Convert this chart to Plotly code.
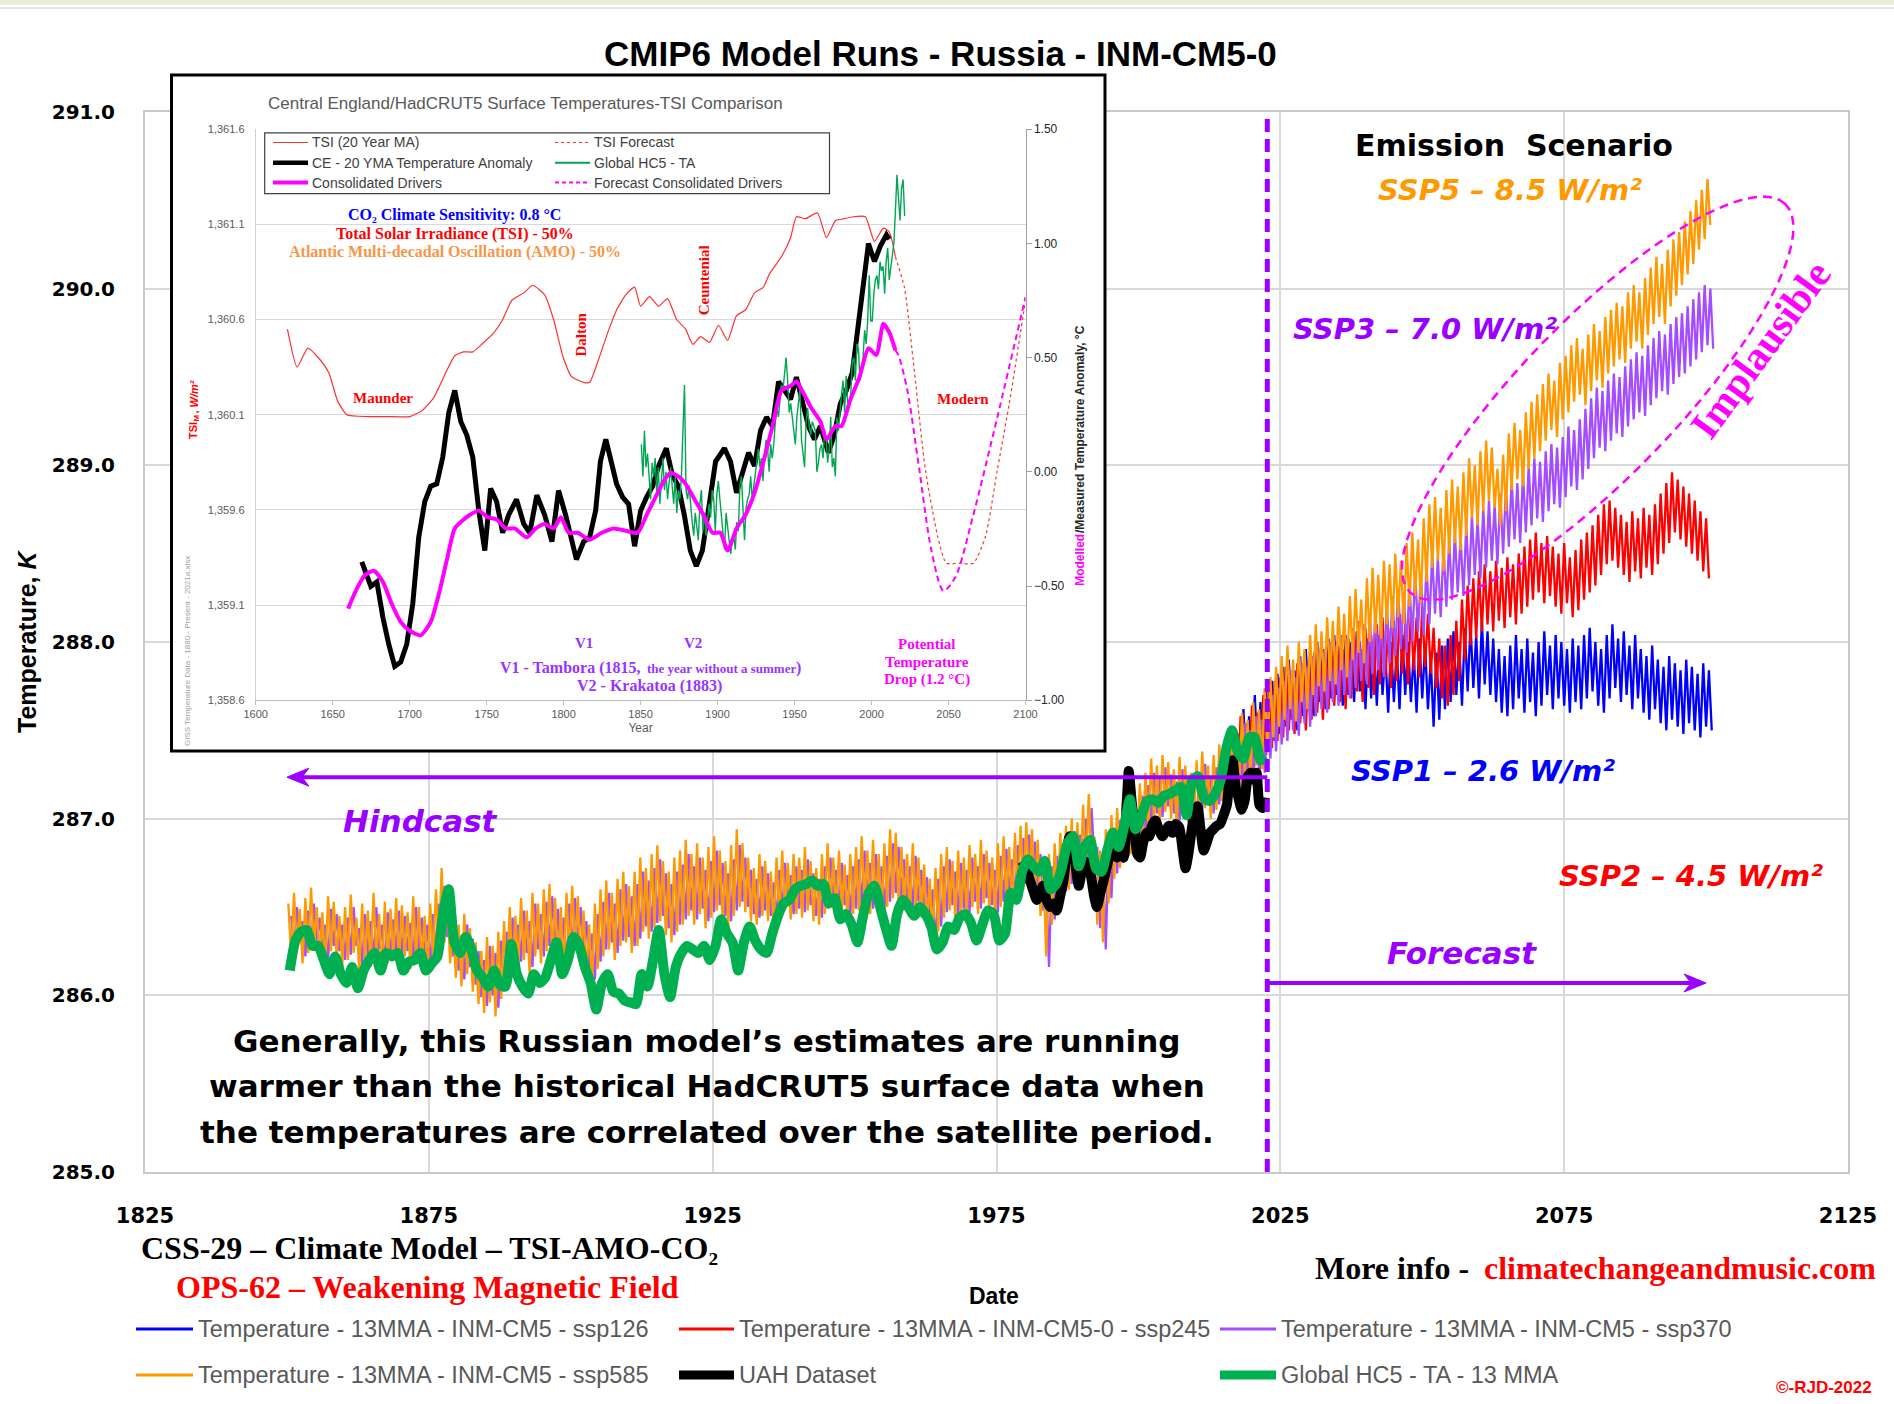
import math
import plotly.graph_objects as go

W, H = 1894, 1404
L, R, T, B = 145, 1848, 112, 1172            # main plot area (px)
IL, IR, IT, IB = 255.7, 1025.5, 129.2, 700.2  # inset plot area (px)
BL, BR, BT, BB = 171.5, 1105, 75, 751          # inset box (px)


def px(x):
    return x / W


def py(y):
    return 1 - y / H


# ------------------------------------------------------------------ data
x_ticks = [1825, 1875, 1925, 1975, 2025, 2075, 2125]
y_ticks = [285, 286, 287, 288, 289, 290, 291]

HIST_START = 1850
FUT_START = 2015

ssp585_hist_hi = [
    286.52, 286.58, 286.49, 286.55, 286.61, 286.50, 286.47, 286.56, 286.53, 286.45,
    286.50, 286.57, 286.44, 286.52, 286.48, 286.58, 286.46, 286.53, 286.49, 286.55,
    286.51, 286.47, 286.56, 286.50, 286.45, 286.52, 286.60, 286.72, 286.58, 286.44,
    286.40, 286.46, 286.38, 286.30, 286.25, 286.33, 286.28, 286.36, 286.42, 286.50,
    286.45, 286.55, 286.48, 286.58, 286.52, 286.60, 286.63, 286.55, 286.50, 286.58,
    286.62, 286.56, 286.48, 286.40, 286.52, 286.60, 286.65, 286.58, 286.66, 286.70,
    286.62, 286.70, 286.78, 286.72, 286.80, 286.85, 286.76, 286.70, 286.78, 286.82,
    286.88, 286.80, 286.86, 286.78, 286.84, 286.90, 286.82, 286.76, 286.85, 286.94,
    286.86, 286.78, 286.72, 286.80, 286.76, 286.70, 286.78, 286.82, 286.75, 286.80,
    286.78, 286.84, 286.76, 286.72, 286.80, 286.86, 286.78, 286.82, 286.74, 286.80,
    286.84, 286.90, 286.82, 286.88, 286.80, 286.86, 286.94, 286.92, 286.84, 286.80,
    286.86, 286.78, 286.74, 286.66, 286.72, 286.80, 286.84, 286.76, 286.82, 286.78,
    286.85, 286.80, 286.88, 286.82, 286.78, 286.86, 286.90, 286.84, 286.92, 286.96,
    286.98, 286.94, 286.88, 286.72, 286.80, 286.86, 286.92, 286.96, 287.00, 286.98,
    287.08, 287.14, 286.90, 286.82, 286.94, 287.02, 287.06, 287.10, 287.16, 287.12,
    287.20, 287.26, 287.34, 287.30, 287.36, 287.32, 287.28, 287.35, 287.30, 287.26,
    287.33, 287.38, 287.30, 287.36, 287.42]
ssp585_hist_lo = [
    286.22, 286.26, 286.18, 286.24, 286.28, 286.20, 286.15, 286.25, 286.22, 286.16,
    286.20, 286.24, 286.13, 286.19, 286.16, 286.22, 286.12, 286.18, 286.21, 286.17,
    286.22, 286.15, 286.20, 286.18, 286.12, 286.20, 286.26, 286.30, 286.18, 286.10,
    286.05, 286.12, 286.02, 285.95, 285.90, 285.96, 285.88, 285.98, 286.05, 286.12,
    286.15, 286.20, 286.12, 286.22, 286.18, 286.25, 286.22, 286.16, 286.12, 286.20,
    286.25, 286.20, 286.12, 286.05, 286.15, 286.22, 286.26, 286.20, 286.28, 286.30,
    286.24, 286.28, 286.36, 286.32, 286.38, 286.42, 286.34, 286.30, 286.36, 286.40,
    286.45, 286.40, 286.46, 286.38, 286.44, 286.48, 286.42, 286.38, 286.45, 286.50,
    286.47, 286.42, 286.40, 286.45, 286.42, 286.38, 286.44, 286.48, 286.43, 286.46,
    286.44, 286.48, 286.42, 286.40, 286.46, 286.50, 286.45, 286.48, 286.42, 286.46,
    286.48, 286.52, 286.46, 286.50, 286.45, 286.50, 286.55, 286.53, 286.48, 286.45,
    286.50, 286.44, 286.38, 286.30, 286.36, 286.44, 286.48, 286.42, 286.46, 286.44,
    286.50, 286.46, 286.52, 286.48, 286.44, 286.50, 286.54, 286.50, 286.56, 286.60,
    286.62, 286.58, 286.45, 286.22, 286.40, 286.50, 286.56, 286.60, 286.64, 286.62,
    286.70, 286.72, 286.40, 286.30, 286.52, 286.66, 286.72, 286.76, 286.80, 286.78,
    286.88, 286.94, 287.00, 286.98, 287.04, 287.00, 286.96, 287.02, 286.98, 286.95,
    287.02, 287.06, 287.00, 287.05, 287.10]
ssp585_fut_hi = [
    287.45, 287.52, 287.48, 287.60, 287.56, 287.66, 287.62, 287.74, 287.80, 287.86,
    287.92, 287.98, 287.90, 288.00, 287.96, 288.04, 288.10, 288.06, 288.14, 288.12,
    288.20, 288.16, 288.26, 288.30, 288.24, 288.36, 288.42, 288.38, 288.46, 288.44,
    288.50, 288.46, 288.56, 288.62, 288.58, 288.70, 288.78, 288.82, 288.76, 288.86,
    288.92, 288.88, 288.96, 289.04, 289.00, 289.08, 289.14, 289.10, 288.98, 289.06,
    289.18, 289.24, 289.20, 289.30, 289.36, 289.40, 289.46, 289.52, 289.48, 289.58,
    289.62, 289.68, 289.72, 289.66, 289.74, 289.80, 289.76, 289.84, 289.88, 289.92,
    289.90, 289.98, 290.02, 289.98, 290.06, 290.12, 290.18, 290.14, 290.22, 290.28,
    290.32, 290.38, 290.44, 290.50, 290.56, 290.62]
ssp585_fut_lo = [
    287.12, 287.18, 287.15, 287.26, 287.22, 287.30, 287.28, 287.40, 287.46, 287.52,
    287.56, 287.62, 287.55, 287.66, 287.62, 287.70, 287.75, 287.72, 287.78, 287.76,
    287.84, 287.80, 287.90, 287.94, 287.88, 288.00, 288.05, 288.02, 288.10, 288.08,
    288.14, 288.10, 288.20, 288.26, 288.22, 288.34, 288.42, 288.46, 288.40, 288.50,
    288.56, 288.52, 288.60, 288.70, 288.66, 288.74, 288.80, 288.76, 288.66, 288.74,
    288.86, 288.92, 288.88, 288.98, 289.04, 289.08, 289.14, 289.20, 289.16, 289.26,
    289.30, 289.36, 289.40, 289.34, 289.42, 289.48, 289.44, 289.52, 289.56, 289.60,
    289.58, 289.66, 289.70, 289.66, 289.74, 289.80, 289.84, 289.80, 289.90, 289.96,
    290.02, 290.08, 290.14, 290.22, 290.28, 290.36]

ssp370_hist_hi = [
    286.45, 286.50, 286.42, 286.48, 286.52, 286.44, 286.40, 286.49, 286.46, 286.40,
    286.44, 286.50, 286.38, 286.46, 286.42, 286.50, 286.40, 286.47, 286.43, 286.48,
    286.45, 286.41, 286.50, 286.44, 286.40, 286.46, 286.52, 286.62, 286.50, 286.38,
    286.34, 286.40, 286.32, 286.25, 286.20, 286.28, 286.24, 286.31, 286.36, 286.44,
    286.40, 286.48, 286.42, 286.52, 286.46, 286.53, 286.56, 286.49, 286.44, 286.52,
    286.55, 286.50, 286.42, 286.35, 286.46, 286.53, 286.58, 286.52, 286.60, 286.63,
    286.56, 286.63, 286.70, 286.65, 286.72, 286.77, 286.69, 286.63, 286.70, 286.74,
    286.80, 286.73, 286.78, 286.71, 286.76, 286.82, 286.75, 286.69, 286.77, 286.85,
    286.78, 286.71, 286.66, 286.73, 286.69, 286.64, 286.71, 286.75, 286.68, 286.73,
    286.71, 286.77, 286.69, 286.66, 286.73, 286.78, 286.71, 286.75, 286.68, 286.73,
    286.77, 286.82, 286.75, 286.80, 286.73, 286.79, 286.86, 286.84, 286.77, 286.73,
    286.79, 286.71, 286.67, 286.60, 286.66, 286.73, 286.77, 286.70, 286.75, 286.71,
    286.78, 286.73, 286.80, 286.75, 286.71, 286.79, 286.83, 286.77, 286.85, 286.89,
    286.91, 286.87, 286.80, 286.65, 286.73, 286.79, 286.85, 286.89, 286.93, 286.91,
    287.00, 287.06, 286.84, 286.76, 286.87, 286.95, 286.99, 287.03, 287.09, 287.05,
    287.13, 287.19, 287.26, 287.23, 287.29, 287.25, 287.21, 287.28, 287.23, 287.19,
    287.26, 287.31, 287.24, 287.29, 287.35]
ssp370_hist_lo = [
    286.25, 286.30, 286.22, 286.27, 286.31, 286.24, 286.19, 286.28, 286.25, 286.20,
    286.23, 286.28, 286.17, 286.23, 286.20, 286.26, 286.16, 286.22, 286.24, 286.21,
    286.25, 286.19, 286.24, 286.22, 286.16, 286.23, 286.29, 286.33, 286.22, 286.14,
    286.09, 286.16, 286.06, 285.99, 285.94, 286.00, 285.93, 286.02, 286.09, 286.16,
    286.19, 286.24, 286.16, 286.26, 286.22, 286.28, 286.26, 286.20, 286.16, 286.24,
    286.28, 286.24, 286.16, 286.09, 286.19, 286.26, 286.30, 286.24, 286.31, 286.33,
    286.28, 286.32, 286.39, 286.36, 286.41, 286.45, 286.38, 286.34, 286.40, 286.43,
    286.48, 286.43, 286.49, 286.42, 286.47, 286.51, 286.45, 286.42, 286.48, 286.53,
    286.50, 286.46, 286.44, 286.48, 286.45, 286.42, 286.47, 286.51, 286.46, 286.49,
    286.47, 286.51, 286.45, 286.44, 286.49, 286.53, 286.48, 286.51, 286.46, 286.49,
    286.51, 286.55, 286.49, 286.53, 286.48, 286.53, 286.58, 286.56, 286.51, 286.48,
    286.53, 286.47, 286.41, 286.27, 286.39, 286.47, 286.51, 286.45, 286.49, 286.47,
    286.53, 286.49, 286.55, 286.51, 286.47, 286.53, 286.57, 286.53, 286.59, 286.63,
    286.65, 286.61, 286.48, 286.16, 286.43, 286.53, 286.59, 286.63, 286.67, 286.65,
    286.73, 286.75, 286.38, 286.26, 286.55, 286.69, 286.75, 286.79, 286.83, 286.81,
    286.91, 286.97, 287.03, 287.01, 287.07, 287.03, 286.99, 287.05, 287.01, 286.98,
    287.05, 287.09, 287.03, 287.08, 287.13]
ssp370_fut_hi = [
    287.40, 287.46, 287.44, 287.54, 287.50, 287.58, 287.56, 287.64, 287.70, 287.74,
    287.78, 287.84, 287.80, 287.88, 287.86, 287.92, 287.96, 287.94, 288.00, 287.98,
    288.04, 288.02, 288.08, 288.12, 288.10, 288.16, 288.18, 288.14, 288.22, 288.26,
    288.30, 288.28, 288.34, 288.40, 288.38, 288.44, 288.50, 288.48, 288.54, 288.58,
    288.62, 288.60, 288.66, 288.72, 288.70, 288.76, 288.80, 288.78, 288.84, 288.88,
    288.92, 288.90, 288.96, 289.00, 289.04, 289.02, 289.08, 289.12, 289.10, 289.16,
    289.22, 289.20, 289.26, 289.32, 289.38, 289.44, 289.42, 289.48, 289.52, 289.50,
    289.56, 289.60, 289.64, 289.62, 289.68, 289.72, 289.76, 289.74, 289.80, 289.84,
    289.86, 289.90, 289.94, 289.98, 290.02, 290.00]
ssp370_fut_lo = [
    287.10, 287.16, 287.14, 287.22, 287.20, 287.28, 287.26, 287.34, 287.38, 287.42,
    287.44, 287.50, 287.47, 287.54, 287.52, 287.58, 287.62, 287.60, 287.66, 287.64,
    287.70, 287.68, 287.74, 287.78, 287.76, 287.82, 287.84, 287.80, 287.88, 287.92,
    287.96, 287.94, 288.00, 288.06, 288.04, 288.10, 288.16, 288.14, 288.20, 288.24,
    288.28, 288.26, 288.32, 288.38, 288.36, 288.42, 288.46, 288.44, 288.50, 288.54,
    288.58, 288.56, 288.62, 288.66, 288.70, 288.68, 288.74, 288.78, 288.76, 288.82,
    288.88, 288.86, 288.92, 288.98, 289.04, 289.10, 289.08, 289.14, 289.18, 289.16,
    289.22, 289.26, 289.30, 289.28, 289.34, 289.38, 289.42, 289.40, 289.46, 289.50,
    289.52, 289.56, 289.60, 289.64, 289.68, 289.66]

ssp245_fut_hi = [
    287.42, 287.50, 287.46, 287.58, 287.54, 287.64, 287.60, 287.70, 287.74, 287.78,
    287.80, 287.86, 287.82, 287.88, 287.84, 287.90, 287.94, 287.90, 287.96, 287.98,
    288.00, 287.96, 288.02, 288.06, 288.00, 288.08, 288.04, 288.10, 288.14, 288.08,
    288.12, 288.16, 288.10, 288.18, 288.14, 288.20, 288.16, 288.08, 288.02, 287.98,
    288.04, 288.12, 288.24, 288.32, 288.36, 288.40, 288.44, 288.40, 288.46, 288.42,
    288.48, 288.44, 288.50, 288.54, 288.58, 288.62, 288.56, 288.60, 288.54, 288.50,
    288.56, 288.48, 288.52, 288.58, 288.62, 288.66, 288.72, 288.78, 288.80, 288.76,
    288.72, 288.68, 288.74, 288.70, 288.76, 288.72, 288.78, 288.84, 288.90, 288.96,
    288.92, 288.88, 288.84, 288.80, 288.74, 288.70]
ssp245_fut_lo = [
    287.12, 287.18, 287.15, 287.24, 287.22, 287.30, 287.28, 287.36, 287.40, 287.44,
    287.46, 287.50, 287.48, 287.54, 287.50, 287.56, 287.60, 287.56, 287.62, 287.64,
    287.66, 287.62, 287.68, 287.72, 287.66, 287.74, 287.70, 287.76, 287.80, 287.74,
    287.78, 287.82, 287.76, 287.84, 287.80, 287.86, 287.82, 287.74, 287.68, 287.64,
    287.70, 287.78, 287.90, 287.98, 288.02, 288.06, 288.10, 288.06, 288.12, 288.08,
    288.14, 288.10, 288.16, 288.20, 288.24, 288.28, 288.22, 288.26, 288.20, 288.16,
    288.22, 288.14, 288.18, 288.24, 288.28, 288.32, 288.38, 288.44, 288.46, 288.42,
    288.38, 288.34, 288.40, 288.36, 288.42, 288.38, 288.44, 288.50, 288.56, 288.62,
    288.58, 288.54, 288.50, 288.46, 288.40, 288.36]

ssp126_fut_hi = [
    287.44, 287.52, 287.48, 287.62, 287.58, 287.70, 287.66, 287.72, 287.78, 287.82,
    287.86, 287.90, 287.84, 287.92, 287.96, 287.92, 288.00, 287.96, 288.02, 288.04,
    287.98, 288.04, 288.00, 288.06, 287.96, 288.02, 287.98, 288.04, 287.94, 288.00,
    287.96, 288.04, 288.00, 287.94, 288.02, 287.98, 287.90, 287.94, 287.98, 288.02,
    288.06, 288.00, 288.08, 288.10, 288.04, 288.12, 288.06, 288.02, 287.96, 287.92,
    287.98, 288.04, 287.96, 288.02, 287.94, 288.00, 288.06, 287.98, 288.04, 288.00,
    287.96, 288.02, 287.98, 288.04, 288.08, 288.00, 287.96, 288.04, 288.10, 288.02,
    288.06, 287.98, 288.04, 287.96, 287.92, 287.98, 287.90, 287.86, 287.92, 287.88,
    287.84, 287.90, 287.86, 287.82, 287.88, 287.84]
ssp126_fut_lo = [
    287.14, 287.20, 287.18, 287.28, 287.26, 287.34, 287.32, 287.40, 287.44, 287.48,
    287.52, 287.56, 287.50, 287.58, 287.62, 287.58, 287.66, 287.62, 287.68, 287.70,
    287.64, 287.70, 287.66, 287.72, 287.62, 287.68, 287.64, 287.70, 287.60, 287.66,
    287.62, 287.70, 287.66, 287.60, 287.68, 287.62, 287.52, 287.56, 287.62, 287.66,
    287.70, 287.64, 287.72, 287.74, 287.68, 287.76, 287.70, 287.66, 287.60, 287.58,
    287.62, 287.68, 287.60, 287.66, 287.58, 287.64, 287.70, 287.62, 287.68, 287.64,
    287.60, 287.66, 287.62, 287.68, 287.72, 287.64, 287.60, 287.68, 287.74, 287.66,
    287.70, 287.62, 287.68, 287.60, 287.56, 287.62, 287.54, 287.50, 287.56, 287.52,
    287.48, 287.54, 287.50, 287.46, 287.52, 287.50]

hc5_main = [
    286.14, 286.31, 286.36, 286.37, 286.28, 286.28, 286.20, 286.12, 286.22, 286.12,
    286.07, 286.16, 286.04, 286.14, 286.20, 286.24, 286.14, 286.24, 286.22, 286.24,
    286.14, 286.19, 286.20, 286.24, 286.14, 286.18, 286.22, 286.46, 286.60, 286.30,
    286.24, 286.33, 286.26, 286.14, 286.10, 286.05, 286.14, 286.06, 286.05, 286.29,
    286.12, 286.05, 286.01, 286.12, 286.07, 286.10, 286.20, 286.30, 286.12, 286.20,
    286.33, 286.28, 286.16, 286.07, 285.92, 286.07, 286.12, 286.02, 286.01, 285.97,
    285.96, 285.95, 286.12, 286.05, 286.20, 286.37, 286.12, 285.99, 286.16, 286.24,
    286.28, 286.26, 286.24, 286.28, 286.20, 286.28, 286.43, 286.35, 286.30, 286.14,
    286.30, 286.39, 286.31, 286.26, 286.24, 286.35, 286.45, 286.52, 286.54, 286.60,
    286.62, 286.63, 286.65, 286.62, 286.63, 286.52, 286.55, 286.43, 286.46, 286.40,
    286.30, 286.45, 286.58, 286.62, 286.50, 286.38, 286.28, 286.46, 286.54, 286.50,
    286.45, 286.50, 286.46, 286.39, 286.26, 286.30, 286.39, 286.37, 286.44, 286.46,
    286.41, 286.31, 286.40, 286.48, 286.46, 286.31, 286.35, 286.58, 286.54, 286.70,
    286.77, 286.73, 286.70, 286.76, 286.60, 286.63, 286.72, 286.86, 286.90, 286.73,
    286.84, 286.88, 286.72, 286.70, 286.82, 286.92, 286.84, 286.96, 287.11, 286.94,
    287.01, 287.10, 287.11, 287.09, 287.13, 287.14, 287.16, 287.18, 287.02, 287.22,
    287.24, 287.12, 287.10, 287.14, 287.22, 287.40, 287.50, 287.38, 287.34, 287.46,
    287.46, 287.33, 287.35]

uah_year = [
    1979.5, 1980.2, 1980.9, 1981.6, 1982.1, 1982.7, 1983.2, 1983.8, 1984.4, 1985.0,
    1985.6, 1986.2, 1986.8, 1987.4, 1987.9, 1988.5, 1989.0, 1989.5, 1990.0, 1990.5,
    1991.1, 1991.6, 1992.2, 1992.7, 1993.3, 1993.8, 1994.4, 1995.0, 1995.6, 1996.2,
    1996.8, 1997.4, 1997.9, 1998.3, 1998.8, 1999.3, 1999.8, 2000.3, 2000.8, 2001.4,
    2001.9, 2002.5, 2003.0, 2003.6, 2004.2, 2004.8, 2005.4, 2006.0, 2006.6, 2007.2,
    2007.8, 2008.3, 2008.8, 2009.4, 2009.9, 2010.4, 2010.9, 2011.5, 2012.0, 2012.6,
    2013.2, 2013.8, 2014.4, 2015.0, 2015.6, 2016.2, 2016.6, 2017.1, 2017.6, 2018.2,
    2018.7, 2019.3, 2019.8, 2020.3, 2020.8, 2021.3, 2021.8, 2022.3]
uah_val = [
    286.76, 286.72, 286.65, 286.58, 286.54, 286.58, 286.62, 286.54, 286.50, 286.52,
    286.48, 286.56, 286.65, 286.82, 286.90, 286.88, 286.72, 286.62, 286.70, 286.76,
    286.72, 286.68, 286.56, 286.50, 286.58, 286.64, 286.72, 286.80, 286.82, 286.78,
    286.80, 286.78, 287.06, 287.27, 287.10, 286.95, 286.80, 286.78, 286.86, 286.92,
    286.90, 286.97, 286.99, 286.94, 286.90, 286.93, 286.96, 286.92, 286.97, 286.95,
    286.82, 286.72, 286.80, 286.94, 287.04, 287.07, 286.95, 286.82, 286.86, 286.92,
    286.94, 286.96, 286.97, 287.02, 287.08, 287.30, 287.33, 287.18, 287.12, 287.05,
    287.10, 287.24, 287.26, 287.22, 287.26, 287.08, 287.06, 287.12]

SPLIT_YEAR = 2022.7          # hindcast / forecast boundary
HINDCAST_Y = 287.235
FORECAST_Y = 286.07
HINDCAST_END = 1850.0
FORECAST_END = 2100.0

# ---- inset data
inset_x_ticks = [1600, 1650, 1700, 1750, 1800, 1850, 1900, 1950, 2000, 2050, 2100]
tsi_year = [1620.6, 1626.9, 1633.9, 1641.7, 1647.5, 1653.3, 1659.2, 1672.8, 1686, 1700,
            1707.9, 1715.7, 1723.4, 1729.3, 1735.1, 1741, 1746.8, 1754.6, 1760.4, 1766.3,
            1774.1, 1779.9, 1787.7, 1793.5, 1799.4, 1805.2, 1813, 1816.9, 1822.7, 1828.6,
            1834.4, 1840.3, 1846.1, 1850, 1855.8, 1861.7, 1867.5, 1873.4, 1879.2, 1883.9,
            1889, 1894.8, 1900.6, 1906.5, 1912.3, 1918.1, 1924, 1929.8, 1933.7, 1941.5,
            1947.4, 1951.2, 1957.1, 1964.9, 1970.7, 1976.6, 1982.4, 1988.2, 1996, 2001.9,
            2007.7, 2011.6, 2015.5]
tsi_val = [1360.55, 1360.35, 1360.45, 1360.39, 1360.32, 1360.17, 1360.10, 1360.09, 1360.09, 1360.09,
           1360.12, 1360.19, 1360.32, 1360.41, 1360.43, 1360.43, 1360.47, 1360.53, 1360.60, 1360.70,
           1360.74, 1360.78, 1360.73, 1360.60, 1360.41, 1360.30, 1360.27, 1360.27, 1360.39, 1360.53,
           1360.65, 1360.73, 1360.77, 1360.67, 1360.72, 1360.67, 1360.71, 1360.60, 1360.55, 1360.47,
           1360.51, 1360.48, 1360.57, 1360.49, 1360.62, 1360.65, 1360.74, 1360.77, 1360.84, 1360.93,
           1361.03, 1361.14, 1361.13, 1361.16, 1361.03, 1361.12, 1361.13, 1361.14, 1361.14, 1361.01,
           1361.08, 1361.06, 1360.93]
tsi_fc_year = [2015.5, 2021.3, 2027.0, 2035.0, 2043.0, 2048.6, 2057.0, 2066.1, 2074.0, 2081.7, 2089.5, 2100.0]
tsi_fc_val = [1360.93, 1360.77, 1360.39, 1359.81, 1359.46, 1359.32, 1359.32, 1359.32, 1359.46, 1359.81, 1360.16, 1360.70]

ce_year = [1668.9, 1674.8, 1678.7, 1682.6, 1686.4, 1690.3, 1694.2, 1698.1, 1702, 1705.9,
           1709.8, 1713.7, 1717.6, 1721.5, 1725.4, 1729.3, 1733.2, 1737.1, 1741, 1744.9,
           1748.8, 1752.6, 1756.5, 1760.4, 1764.3, 1769.4, 1774.1, 1778, 1782.6, 1787.7,
           1792.4, 1796.7, 1801.3, 1804.4, 1808.3, 1813, 1816.9, 1820.8, 1823.9, 1827.4,
           1830.5, 1834.4, 1838.3, 1842.2, 1846.1, 1850, 1853.9, 1857.8, 1861.7, 1866.7,
           1870.6, 1874.5, 1878.4, 1882.3, 1886.2, 1890.1, 1894, 1898.7, 1904.5, 1908.4,
           1912.3, 1916.2, 1920.1, 1924, 1927.9, 1931.8, 1935.7, 1939.6, 1943.5, 1947.4,
           1951.2, 1955.1, 1959, 1962.9, 1966.8, 1971.9, 1975.8, 1979.7, 1983.6, 1987.5,
           1991.4, 1995.3, 1998, 2001.9, 2005.8, 2009.7, 2011.6]
ce_val = [-0.394, -0.501, -0.482, -0.637, -0.755, -0.852, -0.833, -0.755, -0.579, -0.287,
          -0.131, -0.063, -0.053, 0.064, 0.259, 0.356, 0.220, 0.161, 0.064, -0.170,
          -0.345, -0.073, -0.131, -0.267, -0.189, -0.121, -0.228, -0.267, -0.102, -0.189,
          -0.306, -0.082, -0.189, -0.267, -0.384, -0.306, -0.287, -0.170, 0.045, 0.142,
          0.045, -0.053, -0.111, -0.141, -0.326, -0.170, -0.111, -0.063, 0.025, 0.103,
          -0.014, -0.063, -0.189, -0.345, -0.413, -0.345, -0.170, 0.045, 0.103, 0.045,
          -0.092, 0.006, 0.084, 0.025, 0.181, 0.239, 0.200, 0.395, 0.356, 0.317,
          0.415, 0.298, 0.200, 0.142, 0.200, 0.084, 0.161, 0.298, 0.356, 0.434,
          0.648, 0.882, 0.999, 0.921, 0.989, 1.038, 1.019]

cons_year = [1660, 1665, 1670.9, 1676.7, 1682.6, 1688.4, 1694.2, 1700, 1707.1, 1713.7,
             1719.5, 1724.2, 1729.3, 1735.1, 1739, 1744.9, 1750.7, 1756.5, 1762.4, 1768.2,
             1776, 1781.9, 1787.7, 1793.5, 1798.2, 1803.3, 1809.1, 1816.9, 1824.7, 1832.5,
             1840.3, 1848.1, 1853.9, 1859.7, 1865.6, 1869.5, 1875.3, 1879.2, 1885.1, 1890.9,
             1896.7, 1901.8, 1906.5, 1912.3, 1918.1, 1924, 1929.8, 1935.7, 1941.5, 1947.4,
             1951.2, 1956.3, 1961, 1966.8, 1970.7, 1976.6, 1980.5, 1986.3, 1992.2, 1998,
             2003.1, 2007.7, 2011.6, 2015.5]
cons_val = [-0.599, -0.521, -0.453, -0.433, -0.482, -0.579, -0.657, -0.696, -0.716, -0.657,
            -0.521, -0.384, -0.248, -0.209, -0.189, -0.170, -0.199, -0.209, -0.248, -0.248,
            -0.287, -0.248, -0.228, -0.248, -0.199, -0.267, -0.267, -0.297, -0.267, -0.248,
            -0.258, -0.267, -0.189, -0.111, -0.034, -0.004, -0.024, -0.053, -0.121, -0.189,
            -0.267, -0.267, -0.345, -0.248, -0.189, -0.092, 0.045, 0.200, 0.356, 0.376,
            0.395, 0.337, 0.278, 0.220, 0.142, 0.200, 0.200, 0.317, 0.415, 0.541,
            0.512, 0.648, 0.609, 0.532]
cons_fc_year = [2015.5, 2017.4, 2023.3, 2031.1, 2038.9, 2046.7, 2054.4, 2066.1, 2081.7, 2100]
cons_fc_val = [0.532, 0.512, 0.356, 0.006, -0.345, -0.521, -0.462, -0.189, 0.239, 0.765]

HC5_INSET_START = 1850
hc5_inset = [
    0.12, -0.02, 0.18, 0.02, 0.08, -0.04, -0.12, 0.04, -0.02, 0.06,
    -0.10, 0.02, -0.14, -0.04, 0.06, -0.08, 0.00, -0.12, -0.04, 0.02,
    -0.06, -0.14, -0.02, -0.18, -0.08, -0.12, -0.02, 0.22, 0.38, -0.08,
    -0.12, -0.06, -0.16, -0.22, -0.28, -0.18, -0.24, -0.30, -0.14, -0.08,
    -0.26, -0.18, -0.28, -0.22, -0.14, -0.20, -0.08, -0.12, -0.26, -0.10,
    -0.04, -0.12, -0.20, -0.26, -0.34, -0.18, -0.24, -0.32, -0.36, -0.30,
    -0.28, -0.34, -0.22, -0.26, -0.06, -0.02, -0.18, -0.30, -0.16, -0.12,
    -0.10, -0.02, -0.12, -0.06, 0.00, 0.04, 0.10, 0.02, 0.06, -0.04,
    0.08, 0.14, 0.10, 0.00, 0.12, 0.06, 0.12, 0.22, 0.28, 0.24,
    0.32, 0.38, 0.36, 0.42, 0.50, 0.40, 0.26, 0.30, 0.24, 0.20,
    0.12, 0.24, 0.30, 0.36, 0.14, 0.08, 0.02, 0.22, 0.28, 0.20,
    0.16, 0.22, 0.20, 0.18, 0.00, 0.04, 0.10, 0.12, 0.06, 0.18,
    0.14, 0.04, 0.10, 0.24, 0.02, 0.06, -0.02, 0.24, 0.18, 0.28,
    0.34, 0.40, 0.26, 0.42, 0.30, 0.28, 0.34, 0.48, 0.50, 0.40,
    0.56, 0.54, 0.40, 0.44, 0.50, 0.62, 0.56, 0.66, 0.86, 0.66,
    0.66, 0.78, 0.84, 0.86, 0.80, 0.92, 0.88, 0.90, 0.78, 0.92,
    0.98, 0.84, 0.90, 0.94, 1.00, 1.14, 1.30, 1.20, 1.10, 1.24, 1.28, 1.12]

legend_labels = ["Temperature - 13MMA - INM-CM5 - ssp126",
                 "Temperature - 13MMA - INM-CM5-0 - ssp245",
                 "Temperature - 13MMA - INM-CM5 - ssp370",
                 "Temperature - 13MMA - INM-CM5 - ssp585",
                 "UAH Dataset",
                 "Global HC5 - TA - 13 MMA"]

# ------------------------------------------------------------------ styles
C_BLUE, C_RED, C_PURP, C_ORNG = "#0000FF", "#FF0000", "#A34DFF", "#FF9900"
C_GREEN, C_BLACK = "#00B050", "#000000"
C_VIOLET = "#9900FF"
C_MAG = "#FF00FF"
GOTH = "DejaVu Sans"
SANS = "Liberation Sans"
SERIF = "Liberation Serif"
GRAY = "#595959"


def zigzag(start, hi, lo, phase):
    """Each year's high then low value, placed within that year (phase = offset of the high)."""
    xs, ys = [], []
    for i, (h, l) in enumerate(zip(hi, lo)):
        xs += [start + i + phase, start + i + phase + 0.5]
        ys += [h, l]
    return xs, ys


fig = go.Figure()

# ---------------- main traces
bx, by = zigzag(FUT_START, ssp126_fut_hi, ssp126_fut_lo, 0.5)
fig.add_trace(go.Scatter(x=bx, y=by, mode="lines", line=dict(color=C_BLUE, width=2.3),
                         name=legend_labels[0], showlegend=False))
rx, ry = zigzag(FUT_START, ssp245_fut_hi, ssp245_fut_lo, 0.0)
fig.add_trace(go.Scatter(x=rx, y=ry, mode="lines", line=dict(color=C_RED, width=2.3),
                         name=legend_labels[1], showlegend=False))
px_, py_ = zigzag(HIST_START, ssp370_hist_hi + ssp370_fut_hi, ssp370_hist_lo + ssp370_fut_lo, 0.75)
fig.add_trace(go.Scatter(x=px_, y=py_, mode="lines", line=dict(color=C_PURP, width=2.3),
                         name=legend_labels[2], showlegend=False))
ox, oy = zigzag(HIST_START, ssp585_hist_hi + ssp585_fut_hi, ssp585_hist_lo + ssp585_fut_lo, 0.25)
fig.add_trace(go.Scatter(x=ox, y=oy, mode="lines", line=dict(color=C_ORNG, width=2.3),
                         name=legend_labels[3], showlegend=False))
fig.add_trace(go.Scatter(x=uah_year, y=uah_val, mode="lines",
                         line=dict(color=C_BLACK, width=10, shape="spline", smoothing=0.6),
                         name=legend_labels[4], showlegend=False))
fig.add_trace(go.Scatter(x=[HIST_START + i + 0.5 for i in range(len(hc5_main))], y=hc5_main,
                         mode="lines", line=dict(color=C_GREEN, width=10, shape="spline", smoothing=0.6),
                         name=legend_labels[5], showlegend=False))

# ---------------- white inset box (own subplot so it covers the main grid)
fig.add_trace(go.Scatter(x=[0, 1, 1, 0, 0], y=[0, 0, 1, 1, 0], mode="lines", fill="toself",
                         fillcolor="white", line=dict(width=0), xaxis="x2", yaxis="y2",
                         hoverinfo="skip", showlegend=False))

# ---------------- inset traces
fig.add_trace(go.Scatter(x=tsi_year, y=tsi_val, mode="lines", xaxis="x3", yaxis="y3",
                         line=dict(color="#FF3030", width=1.2, shape="spline", smoothing=0.5),
                         name="TSI (20 Year MA)", showlegend=False))
fig.add_trace(go.Scatter(x=tsi_fc_year, y=tsi_fc_val, mode="lines", xaxis="x3", yaxis="y3",
                         line=dict(color="#FF3030", width=1.2, dash="dot", shape="spline", smoothing=0.6),
                         name="TSI Forecast", showlegend=False))
fig.add_trace(go.Scatter(x=ce_year, y=ce_val, mode="lines", xaxis="x3", yaxis="y4",
                         line=dict(color="black", width=5),
                         name="CE - 20 YMA Temperature Anomaly", showlegend=False))
fig.add_trace(go.Scatter(x=[HC5_INSET_START + i + 0.5 for i in range(len(hc5_inset))], y=hc5_inset,
                         mode="lines", xaxis="x3", yaxis="y4",
                         line=dict(color="#00A651", width=1.4),
                         name="Global HC5 - TA", showlegend=False))
fig.add_trace(go.Scatter(x=cons_year, y=cons_val, mode="lines", xaxis="x3", yaxis="y4",
                         line=dict(color=C_MAG, width=4, shape="spline", smoothing=0.6),
                         name="Consolidated Drivers", showlegend=False))
fig.add_trace(go.Scatter(x=cons_fc_year, y=cons_fc_val, mode="lines", xaxis="x3", yaxis="y4",
                         line=dict(color=C_MAG, width=2, dash="6px,4px", shape="spline", smoothing=0.8),
                         name="Forecast Consolidated Drivers", showlegend=False))

# ---------------- layout / axes
grid = "#D9D9D9"
fig.update_layout(
    width=W, height=H, autosize=False,
    margin=dict(l=0, r=0, t=0, b=0, pad=0, autoexpand=False),
    paper_bgcolor="white", plot_bgcolor="white",
    showlegend=False,
    xaxis=dict(domain=[px(L), px(R)], range=[1825, 2125], tickvals=x_ticks,
               showgrid=True, gridcolor=grid, gridwidth=2, zeroline=False,
               showline=True, linecolor="#C8C8C8", linewidth=2, mirror=True,
               ticks="", ticklabelstandoff=24,
               tickfont=dict(family=GOTH, size=21, color="black", weight="bold")),
    yaxis=dict(domain=[py(B), py(T)], range=[285, 291], tickvals=y_ticks, tickformat=".1f",
               showgrid=True, gridcolor=grid, gridwidth=2, zeroline=False,
               showline=True, linecolor="#C8C8C8", linewidth=2, mirror=True,
               ticks="", ticklabelstandoff=24,
               tickfont=dict(family=GOTH, size=20, color="black", weight="bold")),
    xaxis2=dict(domain=[px(BL), px(BR)], range=[0, 1], visible=False, anchor="y2"),
    yaxis2=dict(domain=[py(BB), py(BT)], range=[0, 1], visible=False, anchor="x2"),
    xaxis3=dict(domain=[px(IL), px(IR)], range=[1600, 2100], tickvals=inset_x_ticks,
                anchor="y3", showgrid=False, zeroline=False,
                showline=True, linecolor="#BFBFBF", linewidth=1,
                ticks="outside", ticklen=4, tickcolor="#BFBFBF",
                tickfont=dict(family=SANS, size=11, color=GRAY),
                title=dict(text="Year", font=dict(family=SANS, size=12, color=GRAY), standoff=4)),
    yaxis3=dict(domain=[py(IB), py(IT)], range=[1358.6, 1361.6], dtick=0.5, tick0=1358.6,
                tickformat=",.1f", anchor="x3", showgrid=True, gridcolor=grid, gridwidth=1,
                zeroline=False, showline=True, linecolor="#D0D0D0", linewidth=1,
                ticks="", ticklabelstandoff=8,
                tickfont=dict(family=SANS, size=11, color=GRAY)),
    yaxis4=dict(range=[-1.0, 1.5], dtick=0.5, tick0=-1.0, tickformat=".2f",
                overlaying="y3", side="right", anchor="x3", showgrid=False, zeroline=False,
                showline=True, linecolor="#A0A0A0", linewidth=1,
                ticks="outside", ticklen=5, tickcolor="#A0A0A0",
                tickfont=dict(family=SANS, size=12, color="#262626")),
)

shapes = []
# top decoration strip
shapes.append(dict(type="rect", xref="paper", yref="paper", x0=0, x1=1, y0=py(5), y1=1,
                   fillcolor="#E6EED6", line=dict(width=0), layer="below"))
shapes.append(dict(type="line", xref="paper", yref="paper", x0=0, x1=1, y0=py(8), y1=py(8),
                   line=dict(color="#E4E4E4", width=2), layer="below"))
# hindcast/forecast boundary
shapes.append(dict(type="line", xref="x", yref="y", x0=SPLIT_YEAR, x1=SPLIT_YEAR, y0=285, y1=291,
                   line=dict(color=C_VIOLET, width=5, dash="13px,7px"), layer="above"))

ppx = (R - L) / (x_ticks[-1] - x_ticks[0])   # px per year
ppy = (B - T) / (y_ticks[-1] - y_ticks[0])   # px per K

# hindcast / forecast arrows (shaft + arrow head)
for tip, yy in ((HINDCAST_END, HINDCAST_Y), (FORECAST_END, FORECAST_Y)):
    sgn = 1 if tip < SPLIT_YEAR else -1
    hl, hh, notch = 22 / ppx, 9 / ppy, 15 / ppx
    shapes.append(dict(type="line", xref="x", yref="y", x0=SPLIT_YEAR, x1=tip + sgn * notch, y0=yy, y1=yy,
                       line=dict(color=C_VIOLET, width=4), layer="above"))
    head = (f"M {tip},{yy} L {tip + sgn * hl},{yy + hh} L {tip + sgn * notch},{yy} "
            f"L {tip + sgn * hl},{yy - hh} Z")
    shapes.append(dict(type="path", xref="x", yref="y", path=head, fillcolor=C_VIOLET,
                       line=dict(color=C_VIOLET, width=1), layer="above"))

# "implausible" ellipse (centre in data units, axes in screen px)
ell_cx, ell_cy, ell_a, ell_b, ell_ang = 2080.9, 289.38, 270, 78, math.radians(46)
pts = []
for k in range(73):
    t = 2 * math.pi * k / 72
    dx = ell_a * math.cos(t) * math.cos(ell_ang) - ell_b * math.sin(t) * math.sin(ell_ang)
    dy = ell_a * math.cos(t) * math.sin(ell_ang) + ell_b * math.sin(t) * math.cos(ell_ang)
    pts.append((ell_cx + dx / ppx, ell_cy + dy / ppy))
path = "M " + " L ".join(f"{a:.3f},{b:.4f}" for a, b in pts) + " Z"
shapes.append(dict(type="path", xref="x", yref="y", path=path,
                   line=dict(color=C_MAG, width=2.5, dash="9px,6px"), layer="above"))
# inset frame
shapes.append(dict(type="rect", xref="paper", yref="paper", x0=px(BL), x1=px(BR), y0=py(BB), y1=py(BT),
                   line=dict(color="black", width=3), fillcolor="rgba(0,0,0,0)", layer="above"))
# inset legend box
LGx0, LGx1, LGy0, LGy1 = 264.7, 829.5, 132.8, 193.7
shapes.append(dict(type="rect", xref="paper", yref="paper", x0=px(LGx0), x1=px(LGx1), y0=py(LGy1), y1=py(LGy0),
                   line=dict(color="#404040", width=1.2), fillcolor="white", layer="above"))
inset_leg = [
    ("TSI (20 Year MA)", 273, 308, 142.5, "#FF3030", 1.2, "solid"),
    ("TSI Forecast", 555, 590, 142.5, "#FF3030", 1.2, "dot"),
    ("CE - 20 YMA Temperature Anomaly", 273, 308, 162.8, "black", 4.5, "solid"),
    ("Global HC5 - TA", 555, 590, 162.8, "#00A651", 2, "solid"),
    ("Consolidated Drivers", 273, 308, 182.6, C_MAG, 4, "solid"),
    ("Forecast Consolidated Drivers", 555, 590, 182.6, C_MAG, 2, "4px,3px"),
]
annotations = []
for lab, x0, x1, yy, col, wd, ds in inset_leg:
    shapes.append(dict(type="line", xref="paper", yref="paper", x0=px(x0), x1=px(x1), y0=py(yy), y1=py(yy),
                       line=dict(color=col, width=wd, dash=ds), layer="above"))
    annotations.append(dict(xref="paper", yref="paper", x=px(x1 + 2), y=py(yy), text=lab, showarrow=False,
                            xanchor="left", yanchor="middle",
                            font=dict(family=SANS, size=14, color="#404040")))

# bottom legend
bottom_leg = [
    (legend_labels[0], 136, 193, 1329, C_BLUE, 3),
    (legend_labels[1], 679, 734, 1329, C_RED, 3),
    (legend_labels[2], 1220, 1276, 1329, C_PURP, 3),
    (legend_labels[3], 136, 193, 1375, C_ORNG, 3),
    (legend_labels[4], 679, 734, 1375, C_BLACK, 9),
    (legend_labels[5], 1220, 1276, 1375, C_GREEN, 9),
]
for lab, x0, x1, yy, col, wd in bottom_leg:
    shapes.append(dict(type="line", xref="paper", yref="paper", x0=px(x0), x1=px(x1), y0=py(yy), y1=py(yy),
                       line=dict(color=col, width=wd), layer="above"))
    annotations.append(dict(xref="paper", yref="paper", x=px(x1 + 3), y=py(yy), text=lab, showarrow=False,
                            xanchor="left", yanchor="middle",
                            font=dict(family=SANS, size=23.5, color=GRAY)))


def note(x, y, text, size, color="black", family=GOTH, angle=0, xanchor="center"):
    annotations.append(dict(xref="paper", yref="paper", x=px(x), y=py(y), text=text, showarrow=False,
                            xanchor=xanchor, yanchor="middle", textangle=angle,
                            font=dict(family=family, size=size, color=color)))


# main texts
note(940, 53, "<b>CMIP6 Model Runs - Russia - INM-CM5-0</b>", 35, family=SANS)
note(27, 642, "<b>Temperature, <i>K</i></b>", 25, family=SANS, angle=-90)
note(994, 1296, "<b>Date</b>", 23, family=SANS)
note(1514, 145, "<b>Emission  Scenario</b>", 30)
note(1510, 190, "<b><i>SSP5 – 8.5 W/m²</i></b>", 29, C_ORNG)
note(1425, 329, "<b><i>SSP3 – 7.0 W/m²</i></b>", 29, C_VIOLET)
note(1483, 771, "<b><i>SSP1 – 2.6 W/m²</i></b>", 29, C_BLUE)
note(1691, 876, "<b><i>SSP2 – 4.5 W/m²</i></b>", 29, C_RED)
note(420, 821, "<b><i>Hindcast</i></b>", 31, C_VIOLET)
note(1462, 953, "<b><i>Forecast</i></b>", 31, C_VIOLET)
note(1760, 350, "<b>Implausible</b>", 41, C_MAG, family=SERIF, angle=-54)
note(707, 1041, "<b>Generally, this Russian model’s estimates are running</b>", 31)
note(707, 1086, "<b>warmer than the historical HadCRUT5 surface data when</b>", 31)
note(707, 1132, "<b>the temperatures are correlated over the satellite period.</b>", 31)
note(429, 1248, "<b>CSS-29 – Climate Model – TSI-AMO-CO₂</b>", 32, family=SERIF)
note(427, 1287, "<b>OPS-62 – Weakening Magnetic Field</b>", 32, C_RED, family=SERIF)
note(1313, 1268, "<b>More info -</b>", 32, family=SERIF, xanchor="left")
note(1482, 1268, "<b>climatechangeandmusic.com</b>", 32, C_RED, family=SERIF, xanchor="left")
note(1824, 1387, "<b>©-RJD-2022</b>", 17, C_RED, family=SANS)

# inset texts
note(266, 103, "Central England/HadCRUT5 Surface Temperatures-TSI Comparison", 17, GRAY, family=SANS,
     xanchor="left")
note(454.8, 214.6, "<b>CO₂ Climate Sensitivity: 0.8 °C</b>", 16, "#0000FF", family=SERIF)
note(454.8, 233.8, "<b>Total Solar Irradiance (TSI) - 50%</b>", 16, "#FF0000", family=SERIF)
note(454.8, 252.5, "<b>Atlantic Multi-decadal Oscillation (AMO) - 50%</b>", 16, "#F79646", family=SERIF)
note(382.8, 398, "<b>Maunder</b>", 15, "#FF0000", family=SERIF)
note(580.7, 334.8, "<b>Dalton</b>", 15, "#FF0000", family=SERIF, angle=-90)
note(704.3, 280, "<b>Ceuntenial</b>", 15, "#FF0000", family=SERIF, angle=-90)
note(962.6, 399, "<b>Modern</b>", 15, "#FF0000", family=SERIF)
note(583.7, 642.8, "<b>V1</b>", 15, "#9933FF", family=SERIF)
note(693.4, 642.8, "<b>V2</b>", 15, "#9933FF", family=SERIF)
note(498, 667.7, "<b>V1 - Tambora (1815,</b>", 16, "#9933FF", family=SERIF, xanchor="left")
note(645, 668.5, "<b>the year without a summer</b>", 13, "#9933FF", family=SERIF, xanchor="left")
note(794, 667.7, "<b>)</b>", 16, "#9933FF", family=SERIF, xanchor="left")
note(649.6, 686, "<b>V2 - Krakatoa (1883)</b>", 16, "#9933FF", family=SERIF)
note(926.6, 644, "<b>Potential</b>", 15, C_MAG, family=SERIF)
note(926.6, 662, "<b>Temperature</b>", 15, C_MAG, family=SERIF)
note(926.6, 679, "<b>Drop (1.2 °C)</b>", 15, C_MAG, family=SERIF)
note(193, 431, "<b>TSI</b>", 11, "#FF0000", family=SANS, angle=-90)
note(196, 418.5, "<b>M</b>", 8, "#FF0000", family=SANS, angle=-90)
note(193, 397.5, "<b>, <i>W/m²</i></b>", 11, "#FF0000", family=SANS, angle=-90)
note(1080, 559.8, "<b>Modelled</b>", 12, C_MAG, family=SANS, angle=-90)
note(1080, 429, "<b>/Measured Temperature Anomaly, °C</b>", 12, "#262626", family=SANS, angle=-90)
note(187, 651, "GISS Temperature Data - 1880 - Present - 2021a.xlsx", 8, "#A0A0A0", family=SANS, angle=-90)

fig.update_layout(shapes=shapes, annotations=annotations)

fig.write_html("out.html", config={"displayModeBar": False},
               post_script="document.body.style.margin='0';")
